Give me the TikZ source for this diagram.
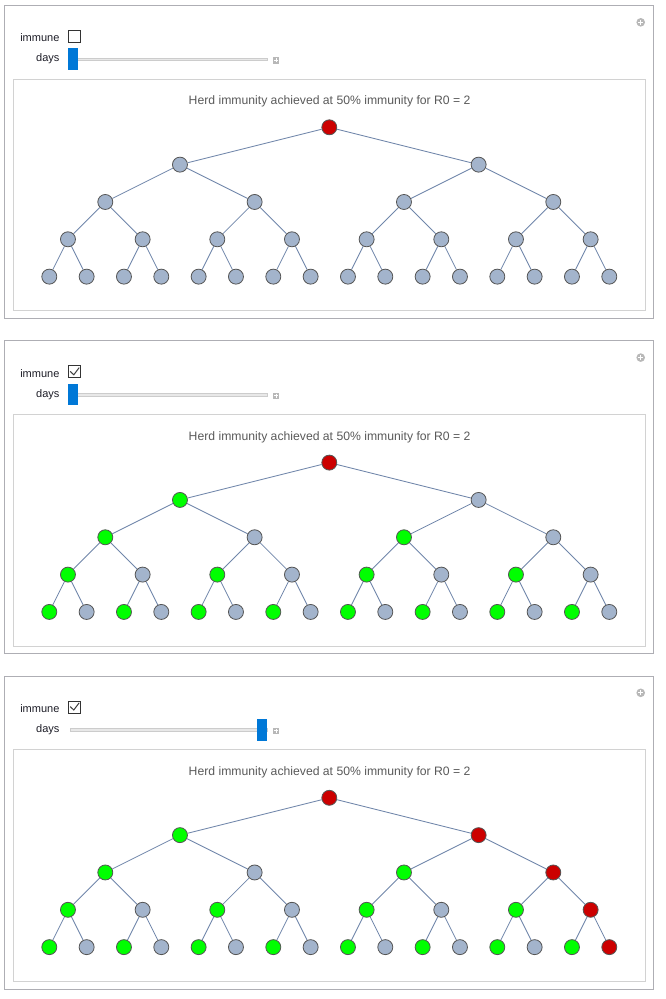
\documentclass[tikz,border=0pt]{standalone}
\usepackage{fontspec}
\setmainfont{Liberation Sans}
\usetikzlibrary{backgrounds}
\definecolor{vgray}{HTML}{A3B4CC}
\definecolor{vred}{HTML}{CC0000}
\definecolor{vgreen}{HTML}{00FF00}
\definecolor{vborder}{HTML}{555555}
\definecolor{ecol}{HTML}{7086AA}
\definecolor{outercol}{HTML}{AEAEB4}
\definecolor{innercol}{HTML}{D2D2D2}
\definecolor{titlecol}{HTML}{5A5A5A}
\definecolor{labelcol}{HTML}{1E1E28}
\definecolor{handlecol}{HTML}{0078D7}
\definecolor{trackfill}{HTML}{E8E8E8}
\definecolor{trackdraw}{HTML}{CCCCCC}
\definecolor{iconcol}{HTML}{B8B8B8}
\tikzset{
  vtx/.style={circle, draw=vborder, line width=0.8pt, minimum size=15pt, inner sep=0pt},
  edgeline/.style={draw=ecol, line width=0.85pt},
  outerframe/.style={draw=outercol, line width=1pt},
  innerframe/.style={draw=innercol, line width=1pt},
  ctrllabel/.style={anchor=east, inner sep=0pt, text=labelcol, font=\fontsize{11}{13}\selectfont},
  titletext/.style={inner sep=0pt, text=titlecol, font=\fontsize{12.2}{14}\selectfont},
  checkbox/.style={draw=black!80, line width=0.9pt, fill=white},
  checkmark/.style={draw=black!75, line width=1pt},
  handle/.style={fill=handlecol},
  track/.style={fill=trackfill, draw=trackdraw, line width=0.7pt},
  iconbox/.style={fill=iconcol},
  iconplus/.style={draw=white, line width=1.2pt},
}
\def\pickcol#1#2{%
  \ifnum#2=1 \def\vc{vred}\else
    \ifnum#1=1 \def\vc{vgray}\else
      \ifodd#2 \def\vc{vgray}\else \def\vc{vgreen}\fi
      \ifnum#1=3
        \ifnum#2=3 \def\vc{vred}\fi
        \ifnum#2=7 \def\vc{vred}\fi
        \ifnum#2=15 \def\vc{vred}\fi
        \ifnum#2=31 \def\vc{vred}\fi
      \fi
    \fi
  \fi}
\begin{document}
\begin{tikzpicture}[x=1pt,y=-1pt]
\useasboundingbox (0,0) rectangle (665,999);
\begin{scope}[on background layer]
  \fill[white] (0,0) rectangle (665,999);
\end{scope}
\foreach \P/\T/\chk/\hx in {1/5.5/0/68, 2/340.8/1/68, 3/676/1/257}{
  \begin{scope}[shift={(0,\T)}]
    % frames
    \draw[outerframe] (4.5,0) rectangle (653.3,313);
    \draw[innerframe] (13.3,73.8) rectangle (645.3,305.2);
    % corner plus icon
    \fill[iconbox] (640.7,16.8) circle (4.3);
    \draw[iconplus] (638.3,16.8) -- (643.1,16.8) (640.7,14.4) -- (640.7,19.2);
    % controls
    \node[ctrllabel] (p\P immune) at (59.6,32.3) {immune};
    \node[ctrllabel] (p\P days) at (59.6,53.6) {days};
    \draw[checkbox] (68.5,25) rectangle (80.5,37);
    \ifnum\chk=1
      \draw[checkmark] (70.2,30.6) -- (73.8,34) -- (79.2,26.8);
    \fi
    \draw[track] (70,52.6) rectangle (267.7,55.2);
    \fill[handle] (\hx,42.8) rectangle (\hx+10,64.5);
    \fill[iconbox] (273,51.7) rectangle (279.4,58.1);
    \draw[iconplus, line width=1pt] (274.2,54.9) -- (278.2,54.9) (276.2,52.9) -- (276.2,56.9);
    % title
    \node[titletext] (p\P title) at (329.6,96.2) {Herd immunity achieved at 50\% immunity for R0 = 2};
    % tree vertices
    \foreach \L in {0,...,4}{
      \pgfmathtruncatemacro\nmax{2^\L-1}
      \foreach \k in {0,...,\nmax}{
        \pgfmathtruncatemacro\idx{2^\L+\k}
        \pgfmathsetmacro\xx{49.3+37.333*((\k+0.5)*2^(4-\L)-0.5)}
        \pgfmathsetmacro\yy{121.8+37.333*\L}
        \pickcol{\P}{\idx}
        \node[vtx, fill=\vc] (p\P n\idx) at (\xx,\yy) {};
      }
    }
    % tree edges
    \begin{scope}[on background layer]
      \foreach \i in {2,...,31}{
        \pgfmathtruncatemacro\pp{floor(\i/2)}
        \draw[edgeline] (p\P n\pp) -- (p\P n\i);
      }
    \end{scope}
  \end{scope}
}
\end{tikzpicture}
\end{document}
